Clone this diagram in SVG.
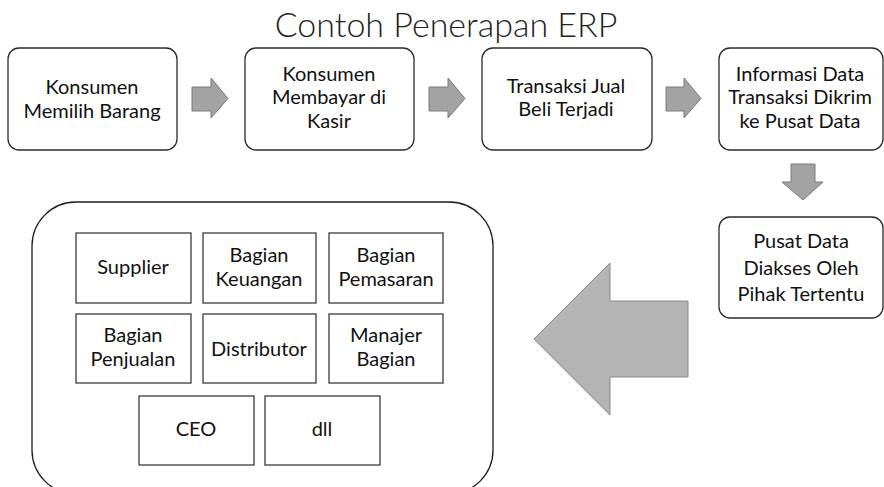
<svg xmlns="http://www.w3.org/2000/svg" width="884" height="487" viewBox="0 0 884 487">
  <style>
    .step { fill: #ffffff; stroke: #2b2b2b; stroke-width: 1.3; }
    .unit { fill: #ffffff; stroke: #2b2b2b; stroke-width: 1.2; }
    .frame { fill: none; stroke: #1e1e1e; stroke-width: 1.3; }
    .arrow { fill: #a3a3a3; stroke: #7a7a7a; stroke-width: 1; }
    .big-arrow { fill: #b4b4b4; stroke: #8a8a8a; stroke-width: 1; }
    text { font-family: Lato, "Open Sans", "Liberation Sans", sans-serif; fill: #111111; text-anchor: middle; }
    .label { font-size: 20px; }
    .title { font-size: 34px; font-weight: 300; fill: #222222; }
  </style>
  <rect width="884" height="487" fill="#ffffff"/>

  <text class="title" x="446" y="37">Contoh Penerapan ERP</text>

  <!-- process steps -->
  <g id="step-1">
    <rect class="step" x="8" y="48" width="169" height="102" rx="11"/>
    <text class="label" x="92" y="94">Konsumen</text>
    <text class="label" x="92" y="118">Memilih Barang</text>
  </g>
  <g id="step-2">
    <rect class="step" x="245" y="48" width="169" height="102" rx="11"/>
    <text class="label" x="329" y="81">Konsumen</text>
    <text class="label" x="329" y="104">Membayar di</text>
    <text class="label" x="329" y="128">Kasir</text>
  </g>
  <g id="step-3">
    <rect class="step" x="482" y="48" width="170" height="102" rx="11"/>
    <text class="label" x="566" y="93">Transaksi Jual</text>
    <text class="label" x="566" y="116">Beli Terjadi</text>
  </g>
  <g id="step-4">
    <rect class="step" x="719" y="48" width="164" height="102" rx="11"/>
    <text class="label" x="800" y="81">Informasi Data</text>
    <text class="label" x="800" y="104">Transaksi Dikrim</text>
    <text class="label" x="800" y="128">ke Pusat Data</text>
  </g>
  <g id="step-5">
    <rect class="step" x="719" y="217" width="164" height="101" rx="11"/>
    <text class="label" x="801" y="248">Pusat Data</text>
    <text class="label" x="801" y="275">Diakses Oleh</text>
    <text class="label" x="801" y="301">Pihak Tertentu</text>
  </g>

  <!-- parties that access the data centre -->
  <g id="parties">
    <rect class="frame" x="32" y="202" width="461" height="292" rx="44"/>
    <g id="supplier">
      <rect class="unit" x="76" y="233" width="115" height="70"/>
      <text class="label" x="133" y="274">Supplier</text>
    </g>
    <g id="bagian-keuangan">
      <rect class="unit" x="203" y="233" width="113" height="70"/>
      <text class="label" x="259" y="262">Bagian</text>
      <text class="label" x="259" y="286">Keuangan</text>
    </g>
    <g id="bagian-pemasaran">
      <rect class="unit" x="329" y="233" width="114" height="70"/>
      <text class="label" x="386" y="262">Bagian</text>
      <text class="label" x="386" y="286">Pemasaran</text>
    </g>
    <g id="bagian-penjualan">
      <rect class="unit" x="76" y="314" width="115" height="69"/>
      <text class="label" x="133" y="342">Bagian</text>
      <text class="label" x="133" y="366">Penjualan</text>
    </g>
    <g id="distributor">
      <rect class="unit" x="203" y="314" width="113" height="69"/>
      <text class="label" x="259" y="356">Distributor</text>
    </g>
    <g id="manajer-bagian">
      <rect class="unit" x="329" y="314" width="114" height="69"/>
      <text class="label" x="386" y="342">Manajer</text>
      <text class="label" x="386" y="366">Bagian</text>
    </g>
    <g id="ceo">
      <rect class="unit" x="139" y="396" width="115" height="69"/>
      <text class="label" x="196" y="436">CEO</text>
    </g>
    <g id="dll">
      <rect class="unit" x="265" y="396" width="115" height="69"/>
      <text class="label" x="322" y="436">dll</text>
    </g>
  </g>

  <!-- block arrows between steps -->
  <g id="connectors">
    <polygon class="arrow" points="192,87 211,87 211,78 228,98.5 211,118 211,111 192,111"/>
    <polygon class="arrow" points="429,87 448,87 448,78 465,98.5 448,118 448,111 429,111"/>
    <polygon class="arrow" points="666,87 684,87 684,78 701,98.5 684,118 684,111 666,111"/>
    <polygon class="arrow" points="791,164 815,164 815,182 823,182 803,200 782,182 791,182"/>
    <polygon class="big-arrow" points="688,301 610,301 610,263 534,339 610,415 610,377 688,377"/>
  </g>
</svg>
